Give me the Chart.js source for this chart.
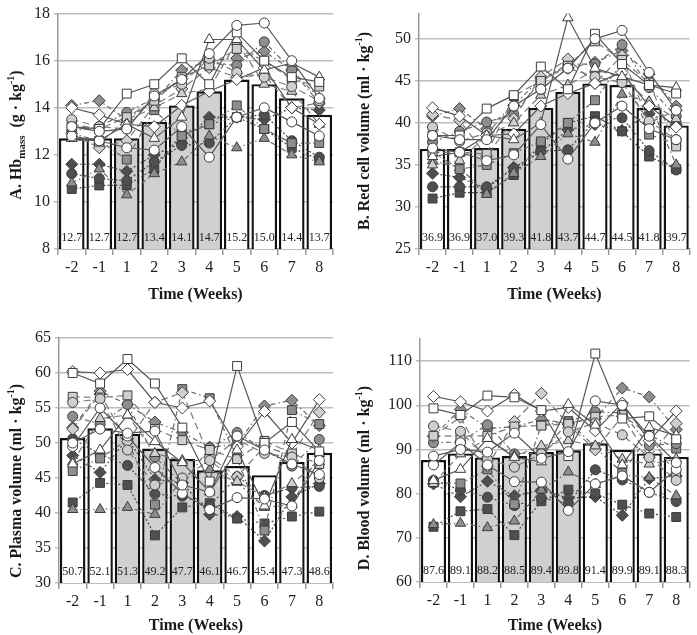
<!DOCTYPE html>
<html><head><meta charset="utf-8">
<script src="https://cdn.jsdelivr.net/npm/chart.js@4.4.1/dist/chart.umd.min.js"></script>
<style>
html,body{margin:0;padding:0;background:#fff;}
#wrap{position:relative;width:697px;height:635px;overflow:hidden;}
canvas{position:absolute;}
</style></head><body>
<div id="wrap">
<canvas id="cA" width="348" height="304" style="left:0;top:0"></canvas>
<canvas id="cB" width="349" height="304" style="left:348px;top:0"></canvas>
<canvas id="cC" width="348" height="317" style="left:0;top:318px"></canvas>
<canvas id="cD" width="349" height="317" style="left:348px;top:318px"></canvas>
</div>
<script>
// ---------- DATA ----------
const weeks = ['-2','-1','1','2','3','4','5','6','7','8'];
const shadedWeeks = ['1','2','3','4'];

const hbmassMeans = [12.7,12.7,12.7,13.4,14.1,14.7,15.2,15.0,14.4,13.7];
const redCellMeans = [36.9,36.9,37.0,39.3,41.8,43.7,44.7,44.5,41.8,39.7];
const plasmaMeans = [50.7,52.1,51.3,49.2,47.7,46.1,46.7,45.4,47.3,48.6];
const bloodMeans = [87.6,89.1,88.2,88.5,89.4,89.8,91.4,89.9,89.1,88.3];

// individual subjects (16), one row per subject
const hbmassSubjects = [
  [13.2,13.0,13.1,14.5,15.2,16.3,17.5,17.6,16.0,14.4],
  [12.8,12.6,12.3,12.2,13.2,11.9,13.6,14.0,13.4,12.8],
  [13.2,13.1,14.6,15.0,16.1,15.0,17.2,16.0,15.3,15.1],
  [12.7,12.6,13.3,12.7,13.6,16.9,16.9,15.6,15.9,15.3],
  [14.0,13.7,13.3,13.2,14.1,14.7,15.2,15.7,14.0,13.3],
  [13.5,13.2,13.1,14.6,15.0,16.1,15.5,15.3,14.9,14.3],
  [13.3,13.1,13.6,14.3,15.3,15.8,16.5,16.0,15.2,14.9],
  [12.7,12.5,13.5,14.0,14.6,14.8,16.8,15.0,14.7,13.3],
  [12.9,12.3,12.6,14.1,14.8,15.7,15.3,15.4,14.0,14.2],
  [13.0,13.2,13.8,14.4,15.2,15.9,15.8,16.8,15.6,14.2],
  [12.9,12.6,11.8,13.9,12.8,13.3,14.1,13.1,12.5,12.5],
  [10.8,11.4,10.3,11.2,11.7,12.8,12.3,12.7,12.0,11.7],
  [14.1,14.3,13.5,14.3,15.6,16.0,16.1,16.4,15.6,14.4],
  [11.2,11.0,10.9,11.7,12.4,12.5,13.6,13.7,12.6,11.9],
  [10.55,10.7,10.7,11.4,12.9,13.3,13.6,13.1,12.3,11.8],
  [11.6,11.6,11.3,12.0,12.5,13.6,13.6,13.5,14.0,13.9]
];
const redCellSubjects = [
  [38.5,38.0,38.0,42.0,44.0,46.5,50.0,51.0,46.0,41.5],
  [37.0,36.5,35.5,36.2,39.8,35.7,40.0,42.0,39.3,38.0],
  [38.5,38.5,41.7,43.3,46.7,44.0,50.6,47.0,44.5,43.5],
  [36.0,36.5,38.5,38.0,40.0,52.5,46.5,45.5,44.5,44.2],
  [41.8,40.8,38.5,38.7,42.0,43.5,44.7,46.0,42.0,39.5],
  [39.5,37.8,38.8,42.0,44.0,46.5,45.5,44.8,40.2,38.0],
  [36.5,36.5,36.3,43.2,45.0,46.8,49.7,47.5,44.8,37.2],
  [35.0,35.5,38.5,40.0,43.3,44.5,46.3,45.5,42.5,40.5],
  [41.0,40.3,36.0,40.5,45.5,47.6,44.7,48.0,40.0,41.5],
  [37.7,39.0,40.1,41.0,45.0,47.0,47.0,49.3,44.2,40.8],
  [36.5,34.5,35.0,36.4,37.8,40.0,42.7,47.2,38.6,37.5],
  [35.5,34.7,31.5,34.0,36.0,38.7,37.7,43.4,42.5,35.0],
  [40.8,41.7,39.3,42.1,45.3,46.5,47.2,48.6,45.8,42.0],
  [32.4,32.4,32.4,34.6,36.6,36.8,40.2,40.6,36.7,34.4],
  [31.0,31.7,31.7,33.8,37.5,40.0,40.8,39.0,36.0,34.5],
  [34.0,33.5,32.2,34.7,36.5,39.2,39.8,39.1,41.1,39.8]
];
const plasmaSubjects = [
  [50.0,52.0,51.4,51.7,44.0,43.0,51.0,49.0,47.0,45.5],
  [49.5,55.0,51.0,46.5,42.8,40.5,42.2,42.0,41.0,47.5],
  [60.0,58.5,62.0,58.5,52.2,44.5,61.0,50.0,53.0,48.8],
  [47.0,49.0,54.0,50.2,47.2,43.0,49.0,41.0,50.5,49.0],
  [60.2,60.0,60.5,55.8,55.0,56.0,49.5,54.5,50.0,56.2],
  [55.8,56.3,49.0,44.0,45.0,47.5,50.5,48.5,48.0,45.0],
  [56.6,56.5,56.8,52.0,50.4,49.0,47.7,50.3,48.5,47.0],
  [47.3,53.5,54.0,48.5,47.5,47.5,44.5,42.3,44.2,47.3],
  [52.0,57.0,50.2,55.8,57.2,48.0,45.2,49.5,48.2,54.4],
  [53.8,52.7,55.5,48.0,44.2,49.3,51.5,49.0,46.7,50.5],
  [46.0,47.8,50.5,41.2,57.7,56.4,47.8,37.5,54.7,52.7],
  [40.5,40.5,40.8,39.8,44.8,46.2,44.4,40.8,41.2,48.5],
  [52.2,57.4,55.5,53.0,51.5,49.4,49.8,55.3,56.1,52.5],
  [50.6,48.4,46.8,42.7,42.4,41.0,45.2,42.5,43.6,43.8],
  [41.5,44.3,44.0,36.8,40.8,41.4,39.2,38.5,39.5,40.2],
  [48.2,45.8,50.6,44.8,44.3,39.8,39.5,36.0,42.3,44.2]
];
const bloodSubjects = [
  [88.5,90.0,89.4,93.7,88.0,89.5,101.0,100.0,93.0,87.0],
  [86.5,91.5,86.5,82.7,82.6,76.2,82.2,84.0,80.3,85.5],
  [99.3,97.8,102.2,101.8,98.9,88.5,111.7,97.0,97.5,92.3],
  [83.0,85.5,92.5,88.2,87.2,100.2,95.5,86.5,95.0,93.2],
  [102.0,100.8,98.7,102.4,98.7,99.5,94.2,100.5,92.0,98.7],
  [95.3,94.1,87.8,86.0,89.0,94.0,96.0,93.3,88.2,83.0],
  [93.1,93.0,93.1,95.2,95.4,95.8,97.4,97.8,93.3,84.2],
  [82.3,89.0,92.5,88.5,90.8,92.0,90.8,87.8,86.7,87.8],
  [93.0,97.3,86.2,96.3,102.7,95.6,89.9,97.5,88.2,95.9],
  [91.5,91.7,95.6,89.0,89.2,96.3,98.5,98.3,90.9,91.3],
  [82.5,82.3,85.5,77.6,95.5,96.4,90.5,84.7,93.3,90.2],
  [73.0,73.3,72.3,73.8,80.8,84.9,82.1,84.2,83.7,79.5],
  [93.0,99.1,94.8,95.1,96.8,95.9,97.0,103.9,101.9,94.5],
  [83.0,80.8,79.2,77.3,79.0,77.8,85.4,83.1,80.3,78.2],
  [72.5,76.0,76.5,70.6,78.3,80.9,80.0,77.5,75.5,74.7],
  [82.2,79.3,82.8,79.5,80.8,79.0,79.3,75.1,83.4,84.0]
];

// ---------- STYLES ----------
const subjectShapes = ['circle','circle','rect','triangle','rectRot','circle','rect','triangle','rectRot','circle','rect','triangle','rectRot','circle','rect','rectRot'];
const subjectTones  = ['W','W','W','W','W','L','L','L','L','M','M','M','M','D','D','D'];
const toneFill = {W:'#ffffff', L:'#cfcfcf', M:'#8e8e8e', D:'#4f4f4f'};
const toneLine = {W:{c:'#575757',d:[]}, L:{c:'#7a7a7a',d:[7,4]}, M:{c:'#6a6a6a',d:[5,3,1.5,3]}, D:{c:'#4a4a4a',d:[2,2]}};
const shapeRadius = {circle:5, rect:6.3, rectRot:6, triangle:6};
const SERIF = '"Liberation Serif", "Times New Roman", serif';

function richTitle(ctx, cx, cy, segs){
  ctx.save();
  ctx.translate(cx, cy);
  ctx.rotate(-Math.PI/2);
  ctx.textBaseline = 'alphabetic';
  ctx.fillStyle = '#1a1a1a';
  let total = 0;
  segs.forEach(s => { ctx.font = 'bold ' + s.size + 'px ' + SERIF; s.w = ctx.measureText(s.t).width; total += s.w; });
  let x = -total/2;
  segs.forEach(s => { ctx.font = 'bold ' + s.size + 'px ' + SERIF; ctx.textAlign='left'; ctx.fillText(s.t, x, 6 + (s.dy||0)); x += s.w; });
  ctx.restore();
}

function makePanel(id, cfg){
  const canvas = document.getElementById(id);
  const W = canvas.width, H = canvas.height;
  const a = cfg.area;
  const datasets = [{
    type:'bar', data: cfg.means, order: 100,
    backgroundColor: weeks.map(w => shadedWeeks.includes(w) ? '#d0d0d0' : '#ffffff'),
    borderColor:'#111', borderWidth:2.4, borderSkipped:false,
    barPercentage:0.93, categoryPercentage:1.0
  }];
  cfg.subjects.forEach((row, i) => {
    const tone = subjectTones[i], shape = subjectShapes[i];
    datasets.push({
      type:'line', data: row, order: i,
      borderColor: toneLine[tone].c, borderDash: toneLine[tone].d, borderWidth:1.2,
      pointStyle: shape, pointRadius: shapeRadius[shape],
      pointBackgroundColor: toneFill[tone], pointBorderColor:'#3c3c3c', pointBorderWidth:1,
      fill:false, tension:0
    });
  });
  const plugin = {
    id:'extras'+id,
    afterDatasetsDraw(chart){
      const ctx = chart.ctx, meta = chart.getDatasetMeta(0);
      ctx.save();
      ctx.font = '12px ' + SERIF; ctx.fillStyle = '#222';
      ctx.textAlign='center'; ctx.textBaseline='middle';
      meta.data.forEach((el, i) => {
        ctx.fillText(cfg.means[i].toFixed(1), el.x, chart.chartArea.bottom - 11);
      });
      ctx.restore();
    },
    afterDraw(chart){
      richTitle(chart.ctx, cfg.titleX, cfg.titleY, cfg.title);
    }
  };
  new Chart(canvas, {
    data:{labels: weeks, datasets},
    options:{
      responsive:false, animation:false, events:[],
      layout:{padding:{left:0, top:a.top, right:W - a.right, bottom:0}},
      plugins:{legend:{display:false}, tooltip:{enabled:false}},
      scales:{
        x:{
          offset:true,
          grid:{display:true, drawOnChartArea:false, drawTicks:true, tickLength:6, offset:true, color:'#9a9a9a', lineWidth:1.5},
          border:{color:'#9a9a9a', width:1.5},
          ticks:{font:{family:SERIF, size:16}, color:'#222', padding:3, maxRotation:0},
          title:{display:true, text:'Time (Weeks)', font:{family:SERIF, size:16, weight:'bold'}, color:'#1a1a1a', padding:{top:2,bottom:0}},
          afterFit(s){ s.height = H - a.bottom; }
        },
        y:{
          min:cfg.min, max:cfg.max,
          ticks:{stepSize:cfg.step, font:{family:SERIF, size:16}, color:'#222', padding:4},
          grid:{color:'#bdbdbd', lineWidth:1.5, tickLength:4},
          border:{color:'#9a9a9a', width:1.5},
          afterBuildTicks(s){ s.ticks = s.ticks.filter(t => Math.abs(t.value/cfg.step - Math.round(t.value/cfg.step)) < 1e-6); },
          afterFit(s){ s.width = a.left; }
        }
      }
    },
    plugins:[plugin]
  });
}

makePanel('cA', {means:hbmassMeans, subjects:hbmassSubjects, min:8, max:18, step:2,
  area:{left:58, top:8, right:333, bottom:249}, titleX:15, titleY:135,
  title:[{t:'A. Hb',size:16},{t:'mass',size:11,dy:4},{t:'  (g · kg',size:16},{t:'-1',size:10,dy:-7},{t:')',size:16}]});
makePanel('cB', {means:redCellMeans, subjects:redCellSubjects, min:25, max:53, step:5,
  area:{left:71, top:8, right:347, bottom:249}, titleX:15, titleY:131,
  title:[{t:'B. Red cell volume (ml · kg',size:16},{t:'-1',size:10,dy:-7},{t:')',size:16}]});
makePanel('cC', {means:plasmaMeans, subjects:plasmaSubjects, min:30, max:65, step:5,
  area:{left:59, top:20, right:333, bottom:265}, titleX:15, titleY:163,
  title:[{t:'C. Plasma volume (ml · kg',size:16},{t:'-1',size:10,dy:-7},{t:')',size:16}]});
makePanel('cD', {means:bloodMeans, subjects:bloodSubjects, min:60, max:115, step:10,
  area:{left:72, top:21, right:347, bottom:264}, titleX:15, titleY:160,
  title:[{t:'D. Blood volume (ml · kg',size:16},{t:'-1',size:10,dy:-7},{t:')',size:16}]});
</script>
</body></html>
